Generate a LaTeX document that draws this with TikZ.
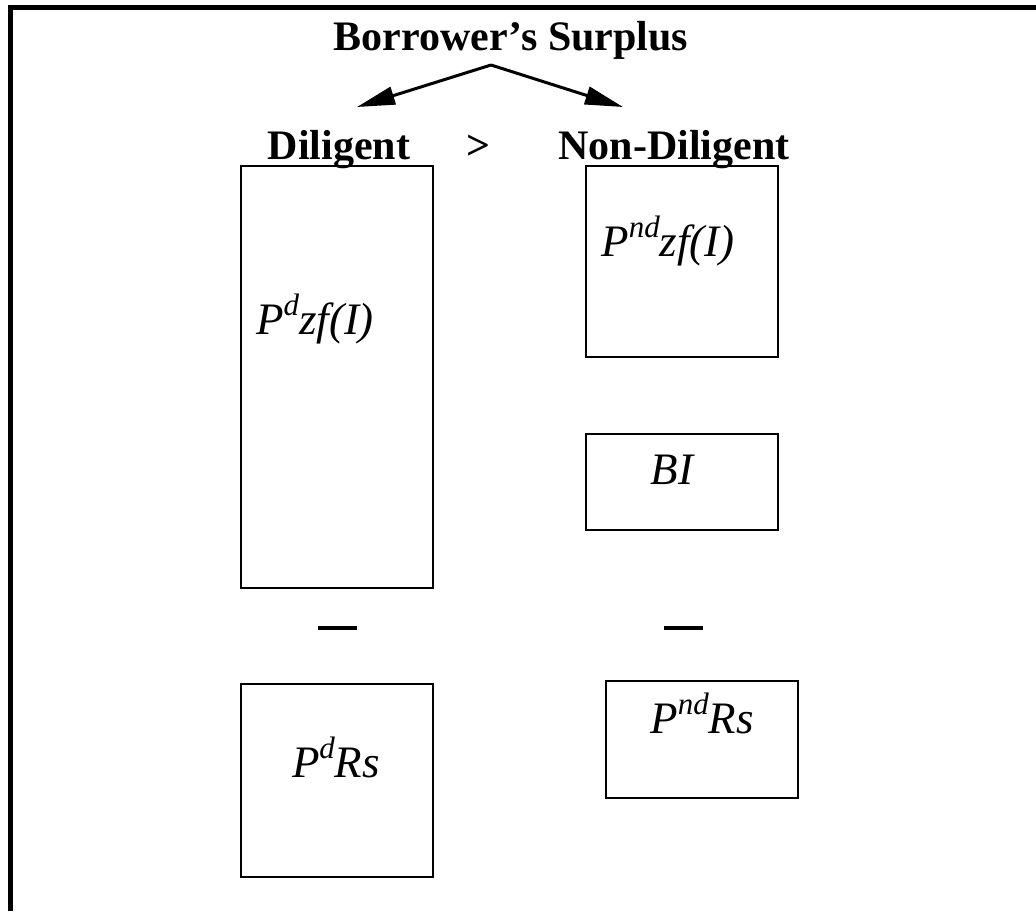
\documentclass[tikz,border=0pt]{standalone}
\usepackage{fontspec}
\setmainfont{Liberation Serif}
\usetikzlibrary{arrows.meta}
\newcommand{\supx}[1]{\raisebox{0.42em}{\fontsize{31}{31}\selectfont #1}}
\tikzset{
  box/.style={draw, line width=2pt, inner sep=0pt, anchor=north west},
  head/.style={font=\fontsize{42}{50}\selectfont\bfseries, inner sep=0pt, anchor=base},
  lbl/.style={font=\fontsize{45}{50}\selectfont\itshape, inner sep=0pt, anchor=base},
  conn/.style={line width=3pt, -{Triangle[length=38pt,width=18pt]}},
  minus/.style={line width=4pt},
  frame/.style={line width=5pt}
}
\begin{document}
\begin{tikzpicture}[x=1pt,y=-1pt]
\useasboundingbox (0,0) rectangle (1036,911);
% frame (top and left only)
\coordinate (fa) at (10,911);
\coordinate (fb) at (10,7.5);
\coordinate (fc) at (1036,7.5);
\draw[frame] (fa) -- (fb) -- (fc);
% title
\node[head] (title) at (511,50) {Borrower’s Surplus};
\coordinate (apex) at (491,65);
\coordinate (tipL) at (357,107);
\coordinate (tipR) at (623,107);
\draw[conn] (apex) -- (tipL);
\draw[conn] (apex) -- (tipR);
% headings
\node[head] (dil) at (339,159) {Diligent};
\node[head] (gt) at (478,159) {>};
\node[head] (ndil) at (674,159) {Non-Diligent};
% boxes
\node[box, minimum width=192pt, minimum height=422pt] (b1) at (240,165) {};
\node[box, minimum width=192pt, minimum height=191pt] (b2) at (585,165) {};
\node[box, minimum width=192pt, minimum height=96pt] (b3) at (585,433) {};
\node[box, minimum width=192pt, minimum height=193pt] (b4) at (240,683) {};
\node[box, minimum width=192pt, minimum height=117pt] (b5) at (605,680) {};
% labels
\node[lbl] (l1) at (315,334) {P\supx{d}zf(I)};
\node[lbl] (l2) at (668,256) {P\supx{nd}zf(I)};
\node[lbl] (l3) at (672,484) {BI};
\node[lbl] (l4) at (336,777) {P\supx{d}Rs};
\node[lbl] (l5) at (702,733) {P\supx{nd}Rs};
% minus signs
\coordinate (m1a) at (318,628);
\coordinate (m1b) at (357,628);
\coordinate (m2a) at (664,628);
\coordinate (m2b) at (703,628);
\draw[minus] (m1a) -- (m1b);
\draw[minus] (m2a) -- (m2b);
\end{tikzpicture}
\end{document}
